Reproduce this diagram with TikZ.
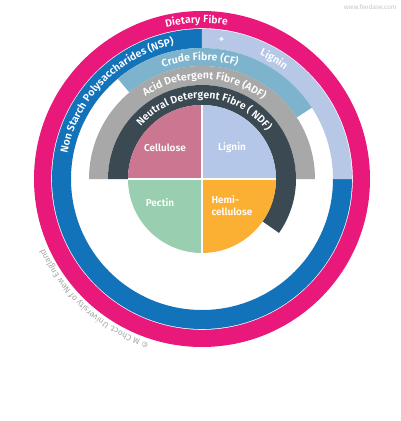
\documentclass[tikz,border=0pt]{standalone}
\usepackage{fontspec}
\setmainfont{Fira Sans}[BoldFont={Fira Sans SemiBold}]
\usetikzlibrary{decorations.text}

\definecolor{fibrepink}{HTML}{E8197A}
\definecolor{nspblue}{HTML}{1272BA}
\definecolor{ligninring}{HTML}{B7C7E6}
\definecolor{cfblue}{HTML}{7DB3CC}
\definecolor{adfgrey}{HTML}{A8A8A8}
\definecolor{ndfdark}{HTML}{3B4A52}
\definecolor{cellrose}{HTML}{CC7791}
\definecolor{ligninpie}{HTML}{B5C7E8}
\definecolor{pectingreen}{HTML}{99CEB0}
\definecolor{hemiorange}{HTML}{FBB034}

% ring sector: colour, start angle, end angle, inner radius, outer radius
\newcommand{\ringsector}[5]{%
  \fill[#1] (#2:#5) arc[start angle=#2, end angle=#3, radius=#5]
    -- (#3:#4) arc[start angle=#3, end angle=#2, radius=#4] -- cycle;}

\begin{document}
\begin{tikzpicture}[
  x=1pt, y=1pt,
  arclabel/.style={decorate, decoration={text along path, text align=center,
    text color=white, text={|\bfseries\fontsize{10.5}{12}\selectfont|#1}}},
  pielabel/.style={text=white, font=\bfseries\fontsize{10}{12}\selectfont}
]
\useasboundingbox (-202,-242) rectangle (198,179);

% outer rings
\fill[fibrepink, even odd rule] (0,0) circle[radius=168] (0,0) circle[radius=150.8];
\ringsector{nspblue}{90}{360}{131}{150}
\ringsector{ligninring}{0}{90}{131}{150}
\ringsector{cfblue}{33}{130}{113}{131}
\ringsector{adfgrey}{0}{180}{94}{113}
\ringsector{ndfdark}{-35}{180}{74}{94}

% pie
\fill[cellrose]    (0,0) -- (180:74) arc[start angle=180, end angle=90, radius=74] -- cycle;
\fill[ligninpie]   (0,0) -- (90:74) arc[start angle=90, end angle=0, radius=74] -- cycle;
\fill[pectingreen] (0,0) -- (270:74) arc[start angle=270, end angle=180, radius=74] -- cycle;
\fill[hemiorange]  (0,0) -- (0:74) arc[start angle=360, end angle=270, radius=74] -- cycle;
\draw[white, line width=1.2pt] (0,74) -- (0,-74) (-74,0) -- (74,0);

\node[pielabel] (cellulose) at (-37,31) {Cellulose};
\node[pielabel] (lignin) at (30,31) {Lignin};
\node[pielabel] (pectin) at (-42,-24) {Pectin};
\node[pielabel, anchor=west, align=left] (hemi) at (6,-27) {Hemi-\\cellulose};

% ring labels
\path[arclabel={Dietary Fibre}] (172:156) arc[start angle=172, end angle=12, radius=156];
\path[arclabel={Non Starch Polysaccharides (NSP)}] (195:137) arc[start angle=195, end angle=76, radius=137];
\path[arclabel={+}] (92:137) arc[start angle=92, end angle=72, radius=137];
\path[arclabel={Lignin}] (80:137) arc[start angle=80, end angle=38, radius=137];
\path[arclabel={Crude Fibre (CF)}] (151:118.5) arc[start angle=151, end angle=31, radius=118.5];
\path[arclabel={Acid Detergent Fibre (ADF)}] (168:100) arc[start angle=168, end angle=9, radius=100];
\path[arclabel={Neutral Detergent Fibre ( NDF)}] (173:80.5) arc[start angle=173, end angle=3, radius=80.5];

% credit
\path[decorate, decoration={text along path, text align=center, text color=gray!70,
  text={|\fontsize{8.5}{10}\selectfont|© M Choct. University of New England}}]
  (268:172) arc[start angle=268, end angle=188, radius=172];
\node[anchor=north east, text=gray!45, font=\fontsize{6.5}{8}\selectfont] (mark) at (198,178) {www.feedase.com};
\end{tikzpicture}
\end{document}
